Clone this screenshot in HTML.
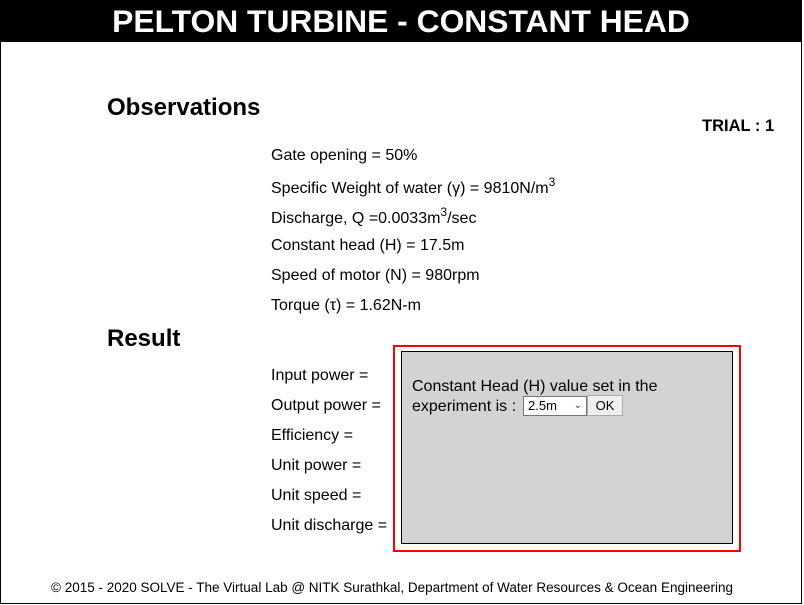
<!DOCTYPE html>
<html><head><meta charset="utf-8"><style>
body{margin:0;width:804px;height:605px;background:#fff;font-family:"Liberation Sans",sans-serif;position:relative;overflow:hidden;color:#000}
.a{position:absolute;white-space:nowrap}
.t{font-size:16px}
sup{font-size:12px;vertical-align:7px;line-height:0}
</style></head><body>
<div class="a" style="left:0;top:0;width:800px;height:603px;border:1px solid #000;border-top:none"></div>
<div class="a" style="left:0;top:0;width:802px;height:42px;background:#000"></div>
<div class="a" style="left:0;top:2px;width:802px;text-align:center;color:#fff;font-weight:bold;font-size:31.8px;line-height:38px">PELTON TURBINE - CONSTANT HEAD</div>
<div class="a" style="left:107px;top:94px;font-size:24px;font-weight:bold">Observations</div>
<div class="a" style="left:702px;top:117px;font-size:16.5px;font-weight:bold">TRIAL : 1</div>
<div class="a t" style="left:271px;top:147px">Gate opening = 50%</div>
<div class="a t" style="left:271px;top:180px">Specific Weight of water (γ) = 9810N/m<sup>3</sup></div>
<div class="a t" style="left:271px;top:210px">Discharge, Q =0.0033m<sup>3</sup>/sec</div>
<div class="a t" style="left:271px;top:237px">Constant head (H) = 17.5m</div>
<div class="a t" style="left:271px;top:267px">Speed of motor (N) = 980rpm</div>
<div class="a t" style="left:271px;top:297px">Torque (τ) = 1.62N-m</div>
<div class="a" style="left:107px;top:325px;font-size:24px;font-weight:bold">Result</div>
<div class="a t" style="left:271px;top:367px">Input power =</div>
<div class="a t" style="left:271px;top:397px">Output power =</div>
<div class="a t" style="left:271px;top:427px">Efficiency =</div>
<div class="a t" style="left:271px;top:457px">Unit power =</div>
<div class="a t" style="left:271px;top:487px">Unit speed =</div>
<div class="a t" style="left:271px;top:517px">Unit discharge =</div>
<div class="a" style="left:393px;top:345px;width:344px;height:203px;border:2px solid #f00"></div>
<div class="a" style="left:401px;top:351px;width:330px;height:191px;border:1px solid #000;background:#d3d3d3"></div>
<div class="a t" style="left:412px;top:377px;line-height:20px">Constant Head (H) value set in the<br>experiment is :</div>
<div class="a" style="left:523px;top:396px;width:58px;height:18px;border:1px solid #767676;background:#fff;font-size:13px;line-height:18px;padding-left:4px;box-sizing:content-box">2.5m<span style="position:absolute;right:4px;top:0;font-size:10px;color:#444">&#8964;</span></div>
<div class="a" style="left:587px;top:395px;width:34px;height:19px;border:1px solid #aaa;background:#efefef;font-size:13px;line-height:19px;text-align:center">OK</div>
<div class="a" style="left:0;top:580px;width:784px;text-align:center;font-size:13.5px">© 2015 - 2020 SOLVE - The Virtual Lab @ NITK Surathkal, Department of Water Resources &amp; Ocean Engineering</div>
</body></html>
